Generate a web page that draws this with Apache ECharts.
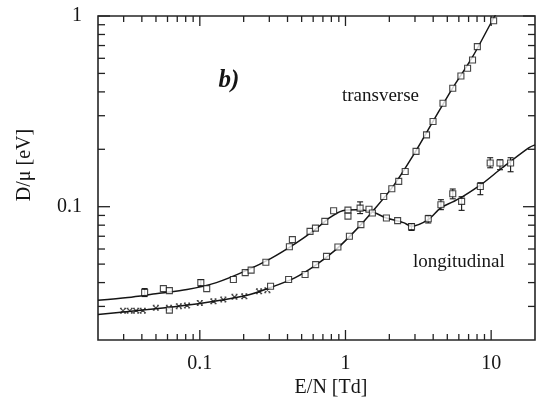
<!DOCTYPE html>
<html>
<head>
<meta charset="utf-8">
<script src="https://cdn.jsdelivr.net/npm/echarts@6/dist/echarts.min.js"></script>
<style>
  html, body { margin: 0; padding: 0; background: #fff; }
  #chart { width: 538px; height: 401px; }
</style>
</head>
<body>
<div id="chart"></div>
<script>
// Axis ranges (log scales)
const X_MIN = 0.02, X_MAX = 20;
const Y_MIN = 0.02, Y_MAX = 1;

// Tick positions
const xMajorTicks = [0.1, 1, 10];
const xMinorTicks = [0.03, 0.04, 0.05, 0.06, 0.07, 0.08, 0.09,
                     0.2, 0.3, 0.4, 0.5, 0.6, 0.7, 0.8, 0.9,
                     2, 3, 4, 5, 6, 7, 8, 9];
const yMajorTicks = [0.1, 1];
const yMinorTicks = [0.03, 0.04, 0.05, 0.06, 0.07, 0.08, 0.09,
                     0.2, 0.3, 0.4, 0.5, 0.6, 0.7, 0.8, 0.9];

// Longitudinal: fitted curve
const longFitX = [0.02, 0.0321, 0.0512, 0.0817, 0.130, 0.208, 0.306, 0.452, 0.618, 0.780, 0.955,
                  1.19, 1.52, 1.89, 2.50, 2.84, 3.70, 4.52, 5.45, 6.37, 8.69, 11.9, 18.1, 20];
const longFitY = [0.0323, 0.0334, 0.0351, 0.0368, 0.040, 0.0462, 0.0534, 0.064, 0.0758, 0.0876, 0.0953,
                  0.0965, 0.0941, 0.0876, 0.0825, 0.0790, 0.0855, 0.0988, 0.106, 0.1128, 0.132, 0.160, 0.2037, 0.211];

// Longitudinal: measured points
const longPtsX = [0.0418, 0.0562, 0.0618, 0.1016, 0.1115, 0.170, 0.205, 0.225, 0.284, 0.412, 0.432,
                  0.571, 0.622, 0.721, 0.829, 1.04, 1.04, 1.26, 1.45, 1.91, 2.28, 2.84, 3.70, 4.52,
                  5.45, 6.27, 8.43, 9.85, 11.5, 13.6];
const longPtsY = [0.0355, 0.0372, 0.0363, 0.0400, 0.0372, 0.0415, 0.0451, 0.0465, 0.0511, 0.0617, 0.0672,
                  0.0742, 0.0772, 0.0838, 0.0953, 0.0959, 0.0892, 0.0983, 0.0970, 0.0873, 0.0845, 0.0786, 0.0865, 0.1024,
                  0.117, 0.1066, 0.1277, 0.1694, 0.1694, 0.1694];

// Longitudinal: error bars
const longErrX  = [0.0418, 0.1016, 1.26, 2.84, 3.70, 4.52, 5.45, 6.27, 8.43, 9.85, 11.5, 13.6];
const longErrLo = [0.0338, 0.0381, 0.092, 0.0751, 0.0822, 0.0965, 0.110, 0.0957, 0.1156, 0.160, 0.1563, 0.1525];
const longErrHi = [0.0372, 0.0415, 0.106, 0.0815, 0.090, 0.1088, 0.1238, 0.1128, 0.1336, 0.1806, 0.1762, 0.1806];

// Transverse: fitted curve
const transFitX = [0.02, 0.0438, 0.1, 0.208, 0.306, 0.452, 0.618, 0.843, 1.15, 1.57, 2.14, 2.93,
                   3.99, 5.45, 7.45, 10.6, 12];
const transFitY = [0.0272, 0.0289, 0.0311, 0.0342, 0.0377, 0.0425, 0.0491, 0.0588, 0.074, 0.0965, 0.129, 0.187,
                   0.280, 0.42, 0.610, 1.0, 1.15];

// Transverse: low-field points (cross markers)
const transLowX = [0.0297, 0.033, 0.0365, 0.0406, 0.0499, 0.0614, 0.0718, 0.0817, 0.100, 0.124, 0.145,
                   0.173, 0.202, 0.255, 0.291];
const transLowY = [0.0285, 0.0285, 0.0285, 0.0285, 0.0295, 0.0295, 0.0301, 0.0303, 0.0313, 0.0319, 0.0326,
                   0.0337, 0.0339, 0.0360, 0.0365];

// Transverse: square markers
const transSqX = [0.0618, 0.306, 0.407, 0.528, 0.624, 0.741, 0.887, 1.064, 1.276, 1.53, 1.83, 2.08,
                  2.32, 2.57, 3.05, 3.60, 3.99, 4.67, 5.45, 6.20, 6.89, 7.45, 8.04, 10.4];
const transSqY = [0.0287, 0.0383, 0.0415, 0.0441, 0.0497, 0.0549, 0.0615, 0.070, 0.0805, 0.0927, 0.1132, 0.1242,
                  0.1357, 0.153, 0.195, 0.238, 0.280, 0.349, 0.418, 0.485, 0.532, 0.588, 0.691, 0.945];

const FONT = '"Liberation Serif", "DejaVu Serif", serif';
const INK = '#151515';

const zip = (a, b) => a.map((v, i) => [v, b[i]]);

// Only decades get a label; written as plain decimals (0.1, 1, 10)
function decadeLabel(v) {
  const l = Math.log10(v);
  const e = Math.round(l);
  if (Math.abs(l - e) > 1e-6) return '';
  return e >= 0 ? String(Math.pow(10, e)) : Math.pow(10, e).toFixed(-e);
}

const xTickData = xMajorTicks.map(v => [v, 0.5, 1]).concat(xMinorTicks.map(v => [v, 0.5, 0]));
const yTickData = yMajorTicks.map(v => [1, v, 1]).concat(yMinorTicks.map(v => [1, v, 0]));

const MAJOR_LEN = 10, MINOR_LEN = 6;
const tickStyle = { stroke: '#222', lineWidth: 1.3 };

const chart = echarts.init(document.getElementById('chart'), null, { renderer: 'canvas' });

chart.setOption({
  animation: false,
  backgroundColor: '#fff',
  grid: {
    left: 98, top: 16, right: -3, bottom: 61,
    show: true, borderColor: '#262626', borderWidth: 1.6, backgroundColor: 'transparent'
  },
  xAxis: {
    type: 'log', logBase: 10, min: X_MIN, max: X_MAX,
    axisLine: { show: false }, axisTick: { show: false }, splitLine: { show: false },
    axisLabel: {
      formatter: decadeLabel, fontFamily: FONT, fontSize: 20, color: INK, margin: 14
    }
  },
  yAxis: {
    type: 'log', logBase: 10, min: Y_MIN, max: Y_MAX,
    axisLine: { show: false }, axisTick: { show: false }, splitLine: { show: false },
    axisLabel: {
      formatter: decadeLabel, fontFamily: FONT, fontSize: 20, color: INK, margin: 16
    }
  },
  graphic: [
    { type: 'text', x: 331, y: 388, style: { text: 'E/N [Td]', font: '20px ' + FONT, fill: INK, align: 'center', verticalAlign: 'middle' } },
    { type: 'text', x: 25, y: 165, rotation: Math.PI / 2, style: { text: 'D/μ [eV]', font: '20px ' + FONT, fill: INK, align: 'center', verticalAlign: 'middle' } },
    { type: 'text', x: 229, y: 81, style: { text: 'b)', font: 'italic bold 25px ' + FONT, fill: INK, align: 'center', verticalAlign: 'middle' } },
    { type: 'text', x: 342, y: 96, style: { text: 'transverse', font: '19px ' + FONT, fill: INK, align: 'left', verticalAlign: 'middle' } },
    { type: 'text', x: 413, y: 262, style: { text: 'longitudinal', font: '19px ' + FONT, fill: INK, align: 'left', verticalAlign: 'middle' } }
  ],
  series: [
    {
      type: 'custom', name: 'xticks', silent: true, data: xTickData,
      encode: { x: 0, y: 1 },
      renderItem: function (params, api) {
        const v = api.value(0);
        const len = api.value(2) ? MAJOR_LEN : MINOR_LEN;
        const b = api.coord([v, Y_MIN]);
        const t = api.coord([v, Y_MAX]);
        return {
          type: 'group', children: [
            { type: 'line', shape: { x1: b[0], y1: b[1], x2: b[0], y2: b[1] - len }, style: tickStyle },
            { type: 'line', shape: { x1: t[0], y1: t[1], x2: t[0], y2: t[1] + len }, style: tickStyle }
          ]
        };
      }
    },
    {
      type: 'custom', name: 'yticks', silent: true, data: yTickData,
      encode: { x: 0, y: 1 },
      renderItem: function (params, api) {
        const v = api.value(1);
        const len = api.value(2) ? MAJOR_LEN + 2 : MINOR_LEN + 1;
        const l = api.coord([X_MIN, v]);
        const r = api.coord([X_MAX, v]);
        return {
          type: 'group', children: [
            { type: 'line', shape: { x1: l[0], y1: l[1], x2: l[0] + len, y2: l[1] }, style: tickStyle },
            { type: 'line', shape: { x1: r[0], y1: r[1], x2: r[0] - len, y2: r[1] }, style: tickStyle }
          ]
        };
      }
    },
    {
      type: 'line', name: 'longitudinal fit', data: zip(longFitX, longFitY),
      smooth: 0.3, showSymbol: false, clip: true,
      lineStyle: { color: INK, width: 1.5 }, z: 3
    },
    {
      type: 'line', name: 'transverse fit', data: zip(transFitX, transFitY),
      smooth: 0.3, showSymbol: false, clip: true,
      lineStyle: { color: INK, width: 1.5 }, z: 3
    },
    {
      type: 'custom', name: 'longitudinal error', silent: true,
      data: longErrX.map((v, i) => [v, longErrLo[i], longErrHi[i]]),
      encode: { x: 0, y: [1, 2] },
      renderItem: function (params, api) {
        const lo = api.coord([api.value(0), api.value(1)]);
        const hi = api.coord([api.value(0), api.value(2)]);
        const w = 3;
        const st = { stroke: INK, lineWidth: 1.1 };
        return {
          type: 'group', children: [
            { type: 'line', shape: { x1: lo[0], y1: lo[1], x2: hi[0], y2: hi[1] }, style: st },
            { type: 'line', shape: { x1: lo[0] - w, y1: lo[1], x2: lo[0] + w, y2: lo[1] }, style: st },
            { type: 'line', shape: { x1: hi[0] - w, y1: hi[1], x2: hi[0] + w, y2: hi[1] }, style: st }
          ]
        };
      },
      z: 4
    },
    {
      type: 'scatter', name: 'longitudinal', data: zip(longPtsX, longPtsY),
      symbol: 'rect', symbolSize: 6,
      itemStyle: { color: '#fff', borderColor: INK, borderWidth: 1.1 }, z: 5
    },
    {
      type: 'scatter', name: 'transverse low', data: zip(transLowX, transLowY),
      symbol: 'path://M0,0L10,10M0,10L10,0M0,0L3,0M7,0L10,0M0,10L3,10M7,10L10,10', symbolSize: [6, 5],
      itemStyle: { color: 'none', borderColor: INK, borderWidth: 1.1 }, z: 5
    },
    {
      type: 'scatter', name: 'transverse', data: zip(transSqX, transSqY),
      symbol: 'rect', symbolSize: 6,
      itemStyle: { color: '#fff', borderColor: INK, borderWidth: 1.1 }, z: 5
    }
  ]
});
</script>
</body>
</html>
